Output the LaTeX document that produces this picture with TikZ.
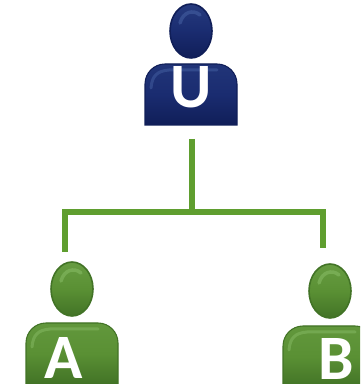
\documentclass[tikz,border=0pt]{standalone}
\usepackage{fontspec}
\setmainfont{Carlito}
\usetikzlibrary{shapes.geometric}
\definecolor{navymid}{HTML}{1A2C70}
\definecolor{navydark}{HTML}{101E58}
\definecolor{navylite}{HTML}{4A66A8}
\definecolor{leafmid}{HTML}{5A9034}
\definecolor{leafdark}{HTML}{427326}
\definecolor{leaflite}{HTML}{8CC06A}
\definecolor{wirecol}{HTML}{5F9E2F}
\tikzset{
  wire/.style={draw=wirecol, line width=0.125cm, line cap=butt, line join=miter},
  letter/.style={text=white, font=\fontsize{36}{36}\bfseries\selectfont, inner sep=0pt},
  head/.style={ellipse, minimum width=0.84cm, minimum height=1.08cm, inner sep=0pt},
}
% #1 name, #2 head centre x, #3 head centre y, #4 body left x, #5 body top y, #6 colour stem
\newcommand{\person}[6]{
  \node[head, draw=#6dark, line width=0.9pt, top color=#6mid!75!#6lite, bottom color=#6dark, middle color=#6mid] (#1head) at (#2,#3) {};
  \draw[#6lite, opacity=.5, line width=0.07cm, line cap=round] (#2-11,#3+8) .. controls (#2-8,#3+19) and (#2+2,#3+22) .. (#2+9,#3+16);
  \shade[top color=#6mid!85!#6lite, bottom color=#6dark, middle color=#6mid, draw=#6dark, line width=0.6pt]
    (#4,#5-61) -- (#4+92,#5-61) [rounded corners=0.4cm] -- (#4+92,#5) -- (#4,#5) [sharp corners] -- cycle;
  \draw[#6lite, opacity=.45, line width=0.06cm, line cap=round] (#4+6,#5-24) .. controls (#4+7,#5-12) and (#4+12,#5-7) .. (#4+24,#5-6) -- (#4+72,#5-6);
}
\begin{document}
\begin{tikzpicture}[x=0.02cm, y=0.02cm]
\useasboundingbox (0,0) rectangle (360,384);
\clip (0,0) rectangle (360,384);

% top person
\person{u}{191}{353}{145}{320}{navy}
\node[letter] (ulabel) at (191,297) {U};

% left person
\person{a}{72}{95}{26}{61}{leaf}
\node[letter] (alabel) at (64,26) {A};

% right person
\person{b}{330}{93}{283}{58}{leaf}
\node[letter] (blabel) at (336,25) {B};

% tree
\coordinate (ustem) at (192,245);
\coordinate (ujoin) at (192,172);
\coordinate (aend) at (65,132);
\coordinate (bend) at (323,136);
\draw[wire] (ustem) -- (ujoin);
\draw[wire] (aend) |- (ujoin) -| (bend);
\end{tikzpicture}
\end{document}
